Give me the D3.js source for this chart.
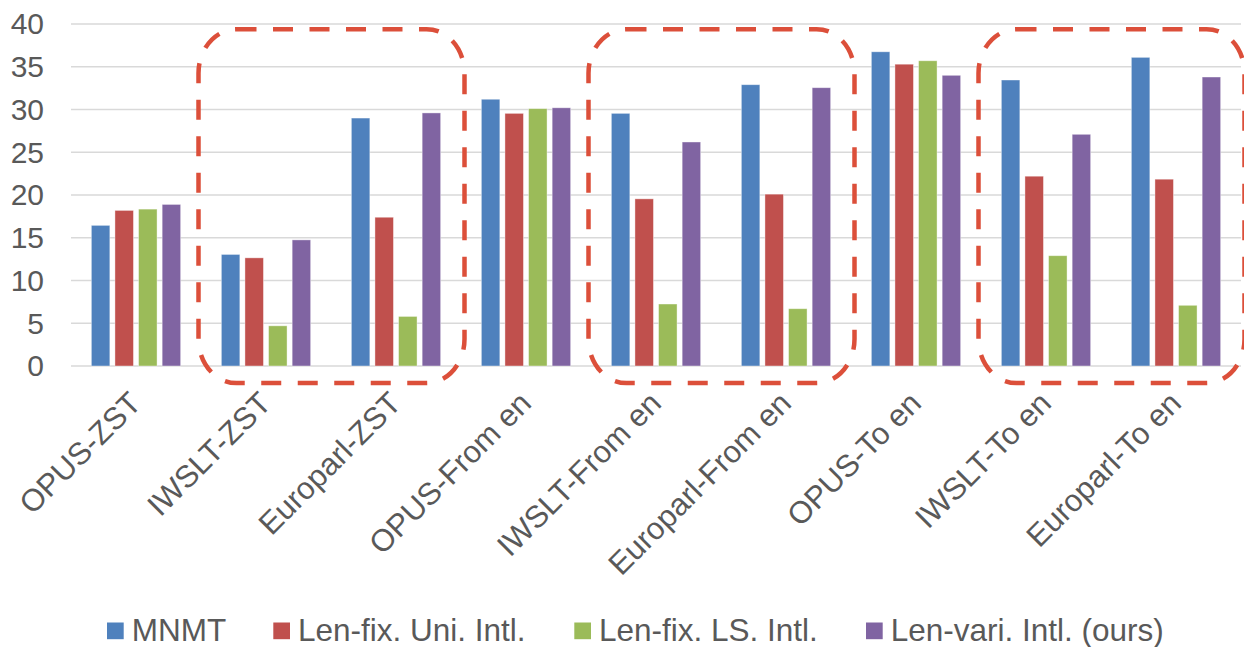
<!DOCTYPE html>
<html><head><meta charset="utf-8">
<script src="https://cdn.jsdelivr.net/npm/d3@7"></script>
<style>
html,body{margin:0;padding:0;background:#fff;}
svg{display:block;font-family:"Liberation Sans",Arial,sans-serif;}
</style></head>
<body>
<svg id="chart" width="1244" height="647"></svg>
<script>
const categories = ["OPUS-ZST","IWSLT-ZST","Europarl-ZST","OPUS-From en","IWSLT-From en","Europarl-From en","OPUS-To en","IWSLT-To en","Europarl-To en"];
const seriesNames = ["MNMT","Len-fix. Uni. Intl.","Len-fix. LS. Intl.","Len-vari. Intl. (ours)"];
const mnmt   = [16.45, 13.05, 29.0, 31.2, 29.55, 32.9, 36.75, 33.45, 36.1];
const lenFixUni = [18.2, 12.65, 17.4, 29.55, 19.55, 20.1, 35.3, 22.2, 21.85];
const lenFixLS  = [18.35, 4.7, 5.8, 30.1, 7.25, 6.7, 35.7, 12.9, 7.1];
const lenVari   = [18.9, 14.75, 29.6, 30.2, 26.2, 32.55, 34.0, 27.1, 33.8];
const yTicks = [0,5,10,15,20,25,30,35,40];
const highlightGroups = [["IWSLT-ZST","Europarl-ZST"],["IWSLT-From en","Europarl-From en"],["IWSLT-To en","Europarl-To en"]];
const colors = ["#4F81BD","#C0504D","#9BBB59","#8064A2"];

(function(){
const values = [mnmt, lenFixUni, lenFixLS, lenVari];
const svg = d3.select("#chart");
const pLeft = 71, pRight = 1241, pTop = 24, pBottom = 366;

const x0 = d3.scaleBand().domain(categories).range([pLeft, pRight]).paddingInner(0.313).paddingOuter(0.1565);
const x1 = d3.scaleBand().domain(seriesNames).range([0, x0.bandwidth()]).paddingInner(0.216).paddingOuter(0);
const y = d3.scaleLinear().domain([0, 40]).range([pBottom, pTop]);

// gridlines
svg.append("g").selectAll("line").data(yTicks).join("line")
  .attr("x1", pLeft).attr("x2", pRight)
  .attr("y1", d => y(d)).attr("y2", d => y(d))
  .attr("stroke", "#D9D9D9").attr("stroke-width", 1.4);

// y tick labels
const yAxis = d3.axisLeft(y).tickValues(yTicks).tickSize(0).tickPadding(0);
const ya = svg.append("g").attr("transform", "translate(44,0)").call(yAxis);
ya.select(".domain").remove();
ya.selectAll("text").attr("font-size", 30).attr("fill", "#595959")
  .attr("font-family", "Liberation Sans, Arial, sans-serif").attr("dy", "0.33em");

// bars
categories.forEach((c, ci) => {
  const g = svg.append("g").attr("transform", `translate(${x0(c)},0)`);
  g.selectAll("rect").data(seriesNames.map((s, si) => ({s, si, v: values[si][ci]}))).join("rect")
    .attr("x", d => x1(d.s)).attr("width", x1.bandwidth())
    .attr("y", d => y(d.v)).attr("height", d => y(0) - y(d.v))
    .attr("fill", d => colors[d.si])
    .attr("stroke", "#ffffff").attr("stroke-opacity", 0.5).attr("stroke-width", 0.8);
});

// x labels
svg.append("g").selectAll("text").data(categories).join("text")
  .attr("transform", d => `translate(${x0(d) + x0.bandwidth()/2 + 7},405) rotate(-45)`)
  .attr("text-anchor", "end")
  .attr("font-size", 31).attr("fill", "#595959")
  .text(d => d);

// dashed highlight boxes
const half = (x0.step() - x0.bandwidth())/2;
svg.append("g").selectAll("rect").data(highlightGroups).join("rect")
  .attr("x", d => x0(d[0]) - half - 2.5)
  .attr("width", d => (x0(d[1]) + x0.bandwidth() + half + 3.5) - (x0(d[0]) - half - 2.5))
  .attr("y", y(39.4)).attr("height", y(-2) - y(39.4))
  .attr("rx", 38).attr("ry", 44)
  .attr("fill", "none").attr("stroke", "#DC4F3A").attr("stroke-width", 4.5)
  .attr("stroke-dasharray", "20,16.5");

// legend
const legendX = [107, 273.3, 574.3, 866];
const lg = svg.append("g");
seriesNames.forEach((s, i) => {
  lg.append("rect").attr("x", legendX[i]).attr("y", 622.5).attr("width", 16.7).attr("height", 16.7).attr("fill", colors[i]);
  lg.append("text").attr("x", legendX[i] + 24.7).attr("y", 640.5)
    .attr("font-size", 31.5).attr("fill", "#595959").text(s);
});
})();
</script>
</body></html>
